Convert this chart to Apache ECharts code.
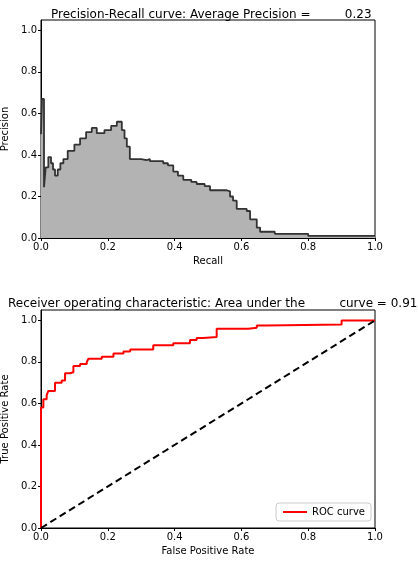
<!DOCTYPE html>
<html><head><meta charset="utf-8">
<script src="https://cdn.jsdelivr.net/npm/echarts@6/dist/echarts.min.js"></script>
<style>html,body{margin:0;background:#fff}#c{width:418px;height:562px}</style>
</head><body><div id="c"></div>
<script>
// precision-recall steps: [recall, precision]
const prRecall = [0, 0.003, 0.009, 0.014, 0.022, 0.03, 0.036, 0.042, 0.05, 0.058, 0.067, 0.08, 0.1, 0.117, 0.135, 0.152, 0.167, 0.19, 0.21, 0.227, 0.242, 0.25, 0.257, 0.266, 0.3, 0.316, 0.326, 0.366, 0.38, 0.396, 0.41, 0.426, 0.45, 0.466, 0.49, 0.506, 0.556, 0.566, 0.575, 0.586, 0.616, 0.626, 0.646, 0.656, 0.7, 0.8, 1.0];
const prPrecision = [0.5, 0.67, 0.245, 0.34, 0.39, 0.36, 0.33, 0.3, 0.33, 0.36, 0.38, 0.42, 0.45, 0.48, 0.51, 0.53, 0.505, 0.52, 0.54, 0.56, 0.52, 0.48, 0.44, 0.38, 0.375, 0.38, 0.37, 0.36, 0.35, 0.32, 0.3, 0.28, 0.27, 0.26, 0.25, 0.23, 0.225, 0.2, 0.18, 0.14, 0.13, 0.09, 0.05, 0.03, 0.02, 0.01, 0.01];
// ROC steps: [fpr, tpr]
const rocFpr = [0, 0, 0, 0.007, 0.017, 0.022, 0.042, 0.062, 0.072, 0.087, 0.097, 0.117, 0.137, 0.142, 0.182, 0.217, 0.247, 0.267, 0.336, 0.396, 0.446, 0.466, 0.486, 0.526, 0.621, 0.646, 0.676, 0.9, 1.0];
const rocTpr = [0, 0.46, 0.58, 0.62, 0.64, 0.66, 0.70, 0.71, 0.745, 0.75, 0.78, 0.79, 0.80, 0.815, 0.825, 0.84, 0.85, 0.86, 0.88, 0.89, 0.905, 0.915, 0.92, 0.96, 0.965, 0.975, 0.98, 1.0, 1.0];
const chanceLine = [[0, 0], [1, 1]];
const ticks = ['0.0', '0.2', '0.4', '0.6', '0.8', '1.0'];

const font = 'DejaVu Sans';
function xAx(idx, name) {
    return {
        type: 'value', gridIndex: idx, min: 0, max: 1, interval: 0.2, name: name,
        nameLocation: 'middle', nameGap: 18, nameTextStyle: {color: '#000', fontSize: 10, fontFamily: font},
        axisLine: {lineStyle: {color: '#000'}}, axisTick: {length: 3, lineStyle: {color: '#000'}},
        axisLabel: {color: '#000', fontSize: 10, fontFamily: font, margin: 4, formatter: v => ticks[Math.round(v * 5)]},
        splitLine: {show: false}
    };
}
function yAx(idx, name) {
    return {
        type: 'value', gridIndex: idx, min: 0, max: 1.05, interval: 0.2, name: name,
        nameLocation: 'middle', nameGap: 28, nameTextStyle: {color: '#000', fontSize: 10, fontFamily: font},
        axisLine: {show: true, lineStyle: {color: '#000'}}, axisTick: {show: true, length: 3, lineStyle: {color: '#000'}},
        axisLabel: {color: '#000', fontSize: 10, fontFamily: font, margin: 4, showMaxLabel: false,
            formatter: v => v > 1.01 ? '' : ticks[Math.round(v * 5)]},
        splitLine: {show: false}
    };
}

const chart = echarts.init(document.getElementById('c'));
chart.setOption({
    animation: false,
    title: [
        {text: 'Precision-Recall curve: Average Precision =         0.23', left: 46, top: 4, textStyle: {fontSize: 12, fontWeight: 'normal', color: '#000', fontFamily: font}},
        {text: 'Receiver operating characteristic: Area under the         curve = 0.91', left: 3, top: 293, textStyle: {fontSize: 12, fontWeight: 'normal', color: '#000', fontFamily: font}}
    ],
    grid: [
        {left: 41, right: 43, top: 20, height: 218, outerBoundsMode: 'none', containLabel: false, show: true, borderColor: '#000', borderWidth: 1},
        {left: 41, right: 43, top: 310, height: 218, outerBoundsMode: 'none', containLabel: false, show: true, borderColor: '#000', borderWidth: 1}
    ],
    xAxis: [xAx(0, 'Recall'), xAx(1, 'False Positive Rate')],
    yAxis: [yAx(0, 'Precision'), yAx(1, 'True Positive Rate')],
    legend: {
        data: ['ROC curve'], right: 47, top: 503, orient: 'vertical',
        itemWidth: 24, itemHeight: 2, padding: [4, 6], borderColor: '#ccc', borderWidth: 1, borderRadius: 3,
        textStyle: {fontSize: 10, fontFamily: font, color: '#000'}
    },
    series: [
        {
            name: 'PR', type: 'line', step: 'end', xAxisIndex: 0, yAxisIndex: 0, symbol: 'none',
            data: prRecall.map((r, i) => [r, prPrecision[i]]),
            lineStyle: {color: '#333', width: 1.8}, areaStyle: {color: '#b3b3b3', opacity: 1}
        },
        {
            name: 'ROC curve', type: 'line', step: 'end', xAxisIndex: 1, yAxisIndex: 1, symbol: 'none',
            data: rocFpr.map((f, i) => [f, rocTpr[i]]),
            lineStyle: {color: '#ff0000', width: 2}, itemStyle: {color: '#ff0000'}
        },
        {
            name: 'chance', type: 'line', xAxisIndex: 1, yAxisIndex: 1, symbol: 'none',
            data: chanceLine, lineStyle: {color: '#000', width: 2, type: [7, 4]}
        }
    ]
});
</script></body></html>
